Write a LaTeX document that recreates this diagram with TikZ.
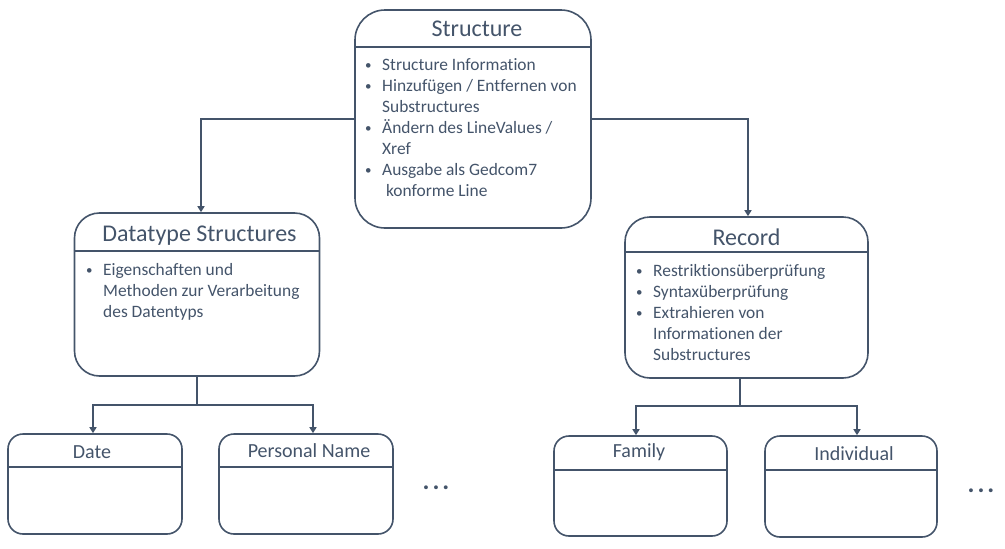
\documentclass[tikz,border=0pt]{standalone}
\usepackage{fontspec}
\setmainfont{Carlito}[Ligatures=NoCommon]
\usetikzlibrary{arrows.meta}
\definecolor{slate}{HTML}{44546A}
\newcommand{\itm}{\makebox[17pt][l]{\raisebox{0.5pt}{\fontsize{13}{13}\selectfont•}}}
\newcommand{\cont}{\hspace*{17pt}}
\begin{document}
\begin{tikzpicture}[x=1pt,y=-1pt,
  box/.style={draw=slate, line width=1.6pt, rounded corners=#1, inner sep=0pt},
  ttl/.style={text=slate, font=\fontsize{24}{28}\selectfont},
  sttl/.style={text=slate, font=\fontsize{20}{24}\selectfont},
  body/.style={text=slate, font=\fontsize{17.4}{21}\selectfont, align=left, anchor=north west, inner sep=0pt},
  more/.style={text=slate, font=\fontsize{26}{28}\bfseries\selectfont, inner sep=0pt},
  arr/.style={draw=slate, line width=1.6pt, -{Triangle[length=6pt,width=7pt]}},
  conn/.style={draw=slate, line width=1.6pt}]
\useasboundingbox (0,0) rectangle (1005,549);

% top box
\node[box=30pt, minimum width=236pt, minimum height=218pt] (struct) at (473,119) {};
\node[ttl] (structT) at (477,28.5) {Structure};
\coordinate (structH) at (473,47);
\draw[conn] (struct.west |- structH) -- (struct.east |- structH);
\node[body] (structB) at (365,58) {\itm Structure Information\\ \itm Hinzufügen / Entfernen von\\ \cont Substructures\\ \itm Ändern des LineValues /\\ \cont Xref\\ \itm Ausgabe als Gedcom7\\ \cont\ konforme Line};

% datatype structures
\node[box=25pt, minimum width=245pt, minimum height=163pt] (dt) at (197,294.5) {};
\node[ttl] (dtT) at (199.5,236) {Datatype Structures};
\coordinate (dtH) at (197,251);
\draw[conn] (dt.west |- dtH) -- (dt.east |- dtH);
\node[body] (dtB) at (86,263) {\itm Eigenschaften und\\ \cont Methoden zur Verarbeitung\\ \cont des Datentyps};

% record
\node[box=25pt, minimum width=243pt, minimum height=161pt] (rec) at (746.5,297.5) {};
\node[ttl] (recT) at (746.5,237) {Record};
\coordinate (recH) at (746.5,252);
\draw[conn] (rec.west |- recH) -- (rec.east |- recH);
\node[body] (recB) at (636,264) {\itm Restriktionsüberprüfung\\ \itm Syntaxüberprüfung\\ \itm Extrahieren von\\ \cont Informationen der\\ \cont Substructures};

% small boxes
\node[box=15pt, minimum width=174pt, minimum height=100pt] (date) at (95,484) {};
\node[sttl] (dateT) at (92,452) {Date};
\draw[conn] (date.west |- 0,467) -- (date.east |- 0,467);

\node[box=15pt, minimum width=174pt, minimum height=100pt] (pname) at (306,484) {};
\node[sttl] (pnameT) at (309,451) {Personal Name};
\draw[conn] (pname.west |- 0,467) -- (pname.east |- 0,467);

\node[box=15pt, minimum width=173pt, minimum height=100pt] (fam) at (640.5,486) {};
\node[sttl] (famT) at (639,452) {Family};
\draw[conn] (fam.west |- 0,470) -- (fam.east |- 0,470);

\node[box=15pt, minimum width=172pt, minimum height=101pt] (ind) at (851,486.5) {};
\node[sttl] (indT) at (854,454) {Individual};
\draw[conn] (ind.west |- 0,470) -- (ind.east |- 0,470);

\node[more] (dotsL) at (436,488) {.\kern3pt.\kern3pt.};
\node[more] (dotsR) at (981,491) {.\kern3pt.\kern3pt.};

% connectors
\draw[arr] (struct.west) -| ([xshift=4pt]dt.north);
\draw[arr] (struct.east) -| ([xshift=1.5pt]rec.north);

\coordinate (dtFork) at (197,405);
\draw[conn] (dt.south) -- (dtFork);
\draw[arr] (dtFork) -| ([xshift=-2pt]date.north);
\draw[arr] (dtFork) -| ([xshift=7pt]pname.north);

\coordinate (recFork) at (740,406);
\draw[conn] ([xshift=-6.5pt]rec.south) -- (recFork);
\draw[arr] (recFork) -| ([xshift=-4.5pt]fam.north);
\draw[arr] (recFork) -| ([xshift=6pt]ind.north);
\end{tikzpicture}
\end{document}
